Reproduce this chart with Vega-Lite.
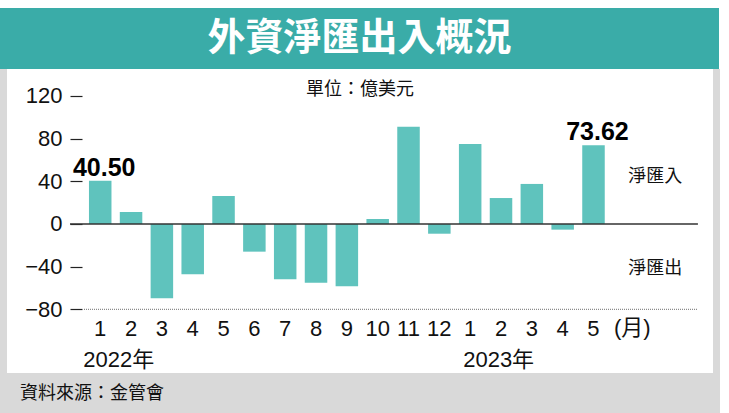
{
  "$schema": "https://vega.github.io/schema/vega-lite/v6.json",
  "background": "white",
  "padding": {"top": 8, "left": 0, "right": 9, "bottom": 0},
  "spacing": 0,
  "config": {
    "view": {"stroke": null},
    "concat": {"spacing": 0},
    "font": "Liberation Sans, Noto Sans CJK TC"
  },
  "datasets": {
    "flows": [
      {"month": "2022-01", "value": 40.5},
      {"month": "2022-02", "value": 11.2},
      {"month": "2022-03", "value": -69.6},
      {"month": "2022-04", "value": -47.1},
      {"month": "2022-05", "value": 26.2},
      {"month": "2022-06", "value": -25.9},
      {"month": "2022-07", "value": -51.8},
      {"month": "2022-08", "value": -55.0},
      {"month": "2022-09", "value": -58.3},
      {"month": "2022-10", "value": 4.7},
      {"month": "2022-11", "value": 91.1},
      {"month": "2022-12", "value": -9.1},
      {"month": "2023-01", "value": 74.9},
      {"month": "2023-02", "value": 24.3},
      {"month": "2023-03", "value": 37.5},
      {"month": "2023-04", "value": -5.3},
      {"month": "2023-05", "value": 73.62}
    ]
  },
  "vconcat": [
    {
      "width": 719,
      "height": 61,
      "view": {"fill": "#3aaca8"},
      "data": {"values": [{"title": "外資淨匯出入概況"}]},
      "mark": {"type": "text", "color": "white", "fontSize": 38, "fontWeight": "bold", "font": "Noto Sans CJK TC", "align": "center", "baseline": "middle"},
      "encoding": {"text": {"field": "title"}}
    },
    {
      "spacing": 0,
      "hconcat": [
        {
          "width": 7,
          "height": 304,
          "view": {"fill": "#d9d9d9"},
          "data": {"values": [{}]},
          "mark": {"type": "text"},
          "encoding": {"text": {"value": ""}}
        },
        {
          "width": 706,
          "height": 304,
          "view": {"fill": "white"},
          "layer": [
            {
              "data": {"name": "flows"},
              "mark": {"type": "bar", "color": "#5fc3bd"},
              "encoding": {
                "x": {
                  "field": "month",
                  "type": "nominal",
                  "sort": null,
                  "scale": {
                    "domain": ["pad1","pad2","2022-01","2022-02","2022-03","2022-04","2022-05","2022-06","2022-07","2022-08","2022-09","2022-10","2022-11","2022-12","2023-01","2023-02","2023-03","2023-04","2023-05","m","pad3","pad4"],
                    "paddingInner": 0.27,
                    "paddingOuter": 0.585,
                    "align": 0.563
                  },
                  "axis": {
                    "orient": "bottom",
                    "offset": -63,
                    "values": ["2022-01","2022-02","2022-03","2022-04","2022-05","2022-06","2022-07","2022-08","2022-09","2022-10","2022-11","2022-12","2023-01","2023-02","2023-03","2023-04","2023-05"],
                    "labelExpr": "toNumber(slice(datum.value, 5))",
                    "domain": false,
                    "ticks": false,
                    "grid": false,
                    "labelAngle": 0,
                    "labelFontSize": 22,
                    "labelPadding": 8,
                    "labelColor": "#111",
                    "labelFont": "Liberation Sans",
                    "title": null
                  }
                },
                "y": {
                  "field": "value",
                  "type": "quantitative",
                  "scale": {"domain": [-139.5, 145.1], "nice": false, "zero": false},
                  "axis": {
                    "values": [-80, -40, 0, 40, 80, 120],
                    "offset": -75,
                    "domain": false,
                    "grid": false,
                    "tickSize": 12,
                    "tickColor": "#222",
                    "tickWidth": 1.2,
                    "labelFontSize": 22,
                    "labelPadding": 8,
                    "labelColor": "#111",
                    "labelFont": "Liberation Sans",
                    "title": null
                  }
                },
                "y2": {"datum": 0}
              }
            },
            {
              "data": {"values": [{}]},
              "mark": {"type": "rule", "color": "#333", "strokeWidth": 1.5},
              "encoding": {
                "x": {"datum": "2022-01", "bandPosition": -0.844},
                "x2": {"datum": "m", "bandPosition": 3.77},
                "y": {"datum": 0}
              }
            },
            {
              "data": {"values": [{}]},
              "mark": {"type": "rule", "color": "#888", "strokeWidth": 1.2, "strokeDash": [1, 1]},
              "encoding": {
                "x": {"datum": "2022-01", "bandPosition": -0.222},
                "x2": {"datum": "m", "bandPosition": 3.77},
                "y": {"datum": -80}
              }
            },
            {
              "data": {"values": [{"month": "2022-01", "value": 40.5, "label": "40.50"}, {"month": "2023-05", "value": 73.62, "label": "73.62"}]},
              "mark": {"type": "text", "fontSize": 25, "fontWeight": "bold", "font": "Liberation Sans", "color": "#000", "baseline": "alphabetic", "align": "center", "dx": 4, "dy": -5},
              "encoding": {
                "x": {"field": "month", "type": "nominal"},
                "y": {"field": "value", "type": "quantitative"},
                "text": {"field": "label"}
              }
            },
            {
              "data": {"values": [{}]},
              "mark": {"type": "text", "fontSize": 18, "fontWeight": "normal", "font": "Noto Sans CJK TC", "color": "#111", "baseline": "middle", "align": "center"},
              "encoding": {"y": {"datum": 125.5}, "text": {"value": "單位：億美元"}}
            },
            {
              "data": {"values": [{}]},
              "mark": {"type": "text", "fontSize": 18, "fontWeight": "normal", "font": "Noto Sans CJK TC", "color": "#111", "baseline": "middle", "align": "center", "dx": 31, "dy": -4},
              "encoding": {"x": {"datum": "m"}, "y": {"datum": 40}, "text": {"value": "淨匯入"}}
            },
            {
              "data": {"values": [{}]},
              "mark": {"type": "text", "fontSize": 18, "fontWeight": "normal", "font": "Noto Sans CJK TC", "color": "#111", "baseline": "middle", "align": "center", "dx": 31, "dy": 2},
              "encoding": {"x": {"datum": "m"}, "y": {"datum": -40}, "text": {"value": "淨匯出"}}
            },
            {
              "data": {"values": [{}]},
              "mark": {"type": "text", "fontSize": 22, "fontWeight": "normal", "color": "#111", "baseline": "middle", "align": "center", "dx": 8},
              "encoding": {"x": {"datum": "m"}, "y": {"datum": -97.4}, "text": {"value": "(月)"}}
            },
            {
              "data": {"values": [{}]},
              "mark": {"type": "text", "fontSize": 22, "fontWeight": "normal", "color": "#111", "baseline": "middle", "align": "left", "dx": -17},
              "encoding": {"x": {"datum": "2022-01"}, "y": {"datum": -127}, "text": {"value": "2022年"}}
            },
            {
              "data": {"values": [{}]},
              "mark": {"type": "text", "fontSize": 22, "fontWeight": "normal", "color": "#111", "baseline": "middle", "align": "left", "dx": -7},
              "encoding": {"x": {"datum": "2023-01"}, "y": {"datum": -127}, "text": {"value": "2023年"}}
            }
          ]
        },
        {
          "width": 7,
          "height": 304,
          "view": {"fill": "#d9d9d9"},
          "data": {"values": [{}]},
          "mark": {"type": "text"},
          "encoding": {"text": {"value": ""}}
        }
      ]
    },
    {
      "width": 720,
      "height": 40,
      "view": {"fill": "#d9d9d9"},
      "data": {"values": [{}]},
      "mark": {"type": "text"},
      "encoding": {"text": {"value": ""}},
      "title": {"text": "資料來源：金管會", "orient": "bottom", "anchor": "start", "frame": "group", "dx": 20, "offset": -19, "baseline": "middle", "fontSize": 18, "fontWeight": "normal", "font": "Noto Sans CJK TC", "color": "#111"}
    }
  ]
}
